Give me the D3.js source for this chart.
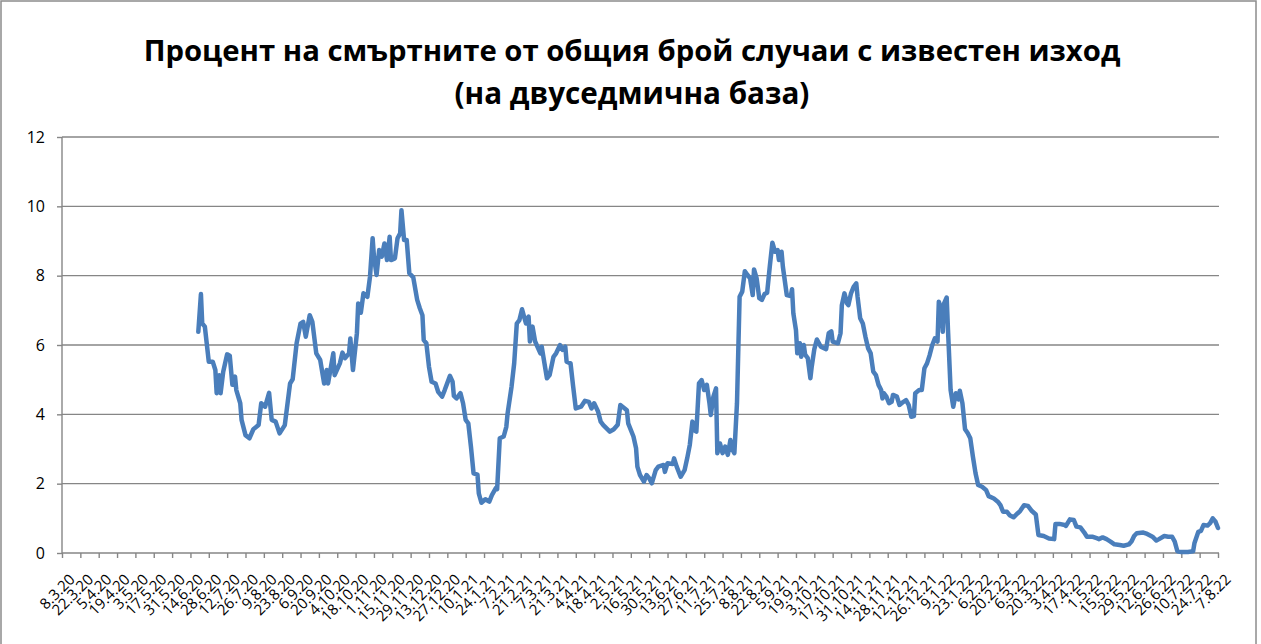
<!DOCTYPE html>
<html>
<head>
<meta charset="utf-8">
<script src="https://cdn.jsdelivr.net/npm/d3@7"></script>
<style>
  body { margin: 0; background: #fff; }
  text { font-family: "Open Sans", "Noto Sans", sans-serif; fill: #000; }
</style>
</head>
<body>
<svg id="chart" width="1261" height="644"></svg>
<script>
// tick labels every 14 days, starting 8.3.20
const tickLabels = ["8.3.20", "22.3.20", "5.4.20", "19.4.20", "3.5.20", "17.5.20", "31.5.20", "14.6.20",
    "28.6.20", "12.7.20", "26.7.20", "9.8.20", "23.8.20", "6.9.20", "20.9.20", "4.10.20", "18.10.20",
    "1.11.20", "15.11.20", "29.11.20", "13.12.20", "27.12.20", "10.1.21", "24.1.21", "7.2.21", "21.2.21",
    "7.3.21", "21.3.21", "4.4.21", "18.4.21", "2.5.21", "16.5.21", "30.5.21", "13.6.21", "27.6.21",
    "11.7.21", "25.7.21", "8.8.21", "22.8.21", "5.9.21", "19.9.21", "3.10.21", "17.10.21", "31.10.21",
    "14.11.21", "28.11.21", "12.12.21", "26.12.21", "9.1.22", "23.1.22", "6.2.22", "20.2.22", "6.3.22",
    "20.3.22", "3.4.22", "17.4.22", "1.5.22", "15.5.22", "29.5.22", "12.6.22", "26.6.22", "10.7.22",
    "24.7.22", "7.8.22"];

// day number counted from 8.3.20
const days = [104, 106, 107, 109, 112, 115, 117, 118, 120, 121, 123, 126, 128, 130, 132, 133, 136, 137, 140, 143,
    146, 150, 152, 155, 158, 160, 163, 166, 170, 174, 176, 179, 182, 184, 186, 189, 191, 194, 197, 200,
    202, 203, 207, 208, 212, 214, 216, 219, 220, 222, 225, 226, 228, 230, 233, 235, 237, 238, 240, 242,
    244, 246, 248, 250, 251, 254, 256, 258, 259, 261, 263, 265, 268, 271, 273, 275, 276, 278, 280, 282,
    285, 287, 290, 292, 296, 298, 299, 301, 304, 306, 308, 310, 312, 314, 317, 318, 320, 323, 326, 328,
    331, 332, 334, 337, 339, 340, 343, 345, 347, 349, 351, 354, 356, 357, 359, 361, 365, 366, 370, 372,
    375, 377, 380, 382, 384, 385, 388, 390, 392, 396, 399, 402, 404, 406, 409, 411, 413, 418, 421, 424,
    426, 431, 432, 436, 438, 439, 441, 444, 446, 448, 450, 453, 455, 459, 460, 462, 466, 467, 469, 472,
    475, 477, 479, 481, 482, 484, 486, 488, 490, 492, 494, 495, 497, 499, 500, 502, 504, 506, 508, 510,
    511, 513, 515, 517, 519, 521, 523, 525, 527, 528, 530, 532, 534, 536, 538, 540, 542, 544, 546, 547,
    549, 550, 553, 556, 557, 558, 560, 561, 563, 564, 566, 567, 569, 571, 572, 574, 576, 579, 583, 585,
    587, 588, 592, 594, 595, 597, 599, 600, 602, 604, 606, 607, 609, 611, 613, 615, 617, 619, 621, 623,
    625, 626, 627, 629, 631, 633, 634, 637, 639, 642, 644, 646, 648, 650, 651, 654, 656, 658, 660, 662,
    664, 666, 668, 669, 671, 672, 673, 675, 676, 678, 680, 682, 684, 685, 687, 689, 691, 693, 695, 697,
    699, 702, 705, 707, 711, 714, 716, 718, 721, 723, 726, 729, 731, 734, 737, 740, 743, 745, 749, 753,
    757, 758, 761, 765, 766, 769, 772, 774, 777, 780, 782, 786, 790, 791, 794, 797, 800, 803, 807, 810,
    814, 816, 818, 820, 825, 828, 832, 835, 837, 841, 844, 847, 849, 851, 854, 859, 863, 864, 867, 869,
    871, 874, 876, 878, 880, 882];

// percent of deaths among closed cases (two-week base)
const values = [6.38, 7.47, 6.62, 6.53, 5.52, 5.52, 5.28, 4.61, 5.13, 4.61, 5.23, 5.73, 5.69, 4.85, 5.09, 4.70, 4.32, 3.84, 3.40, 3.31,
    3.57, 3.69, 4.32, 4.22, 4.62, 3.84, 3.79, 3.45, 3.69, 4.89, 5.01, 6.05, 6.62, 6.67, 6.24, 6.86, 6.67, 5.76, 5.57, 4.89,
    5.28, 4.89, 5.76, 5.13, 5.47, 5.78, 5.62, 5.76, 6.19, 5.28, 6.34, 7.20, 6.93, 7.49, 7.39, 7.97, 9.08, 8.55, 8.02, 8.74,
    8.55, 8.93, 8.45, 9.12, 8.45, 8.50, 9.08, 9.22, 9.89, 9.03, 9.03, 8.07, 7.95, 7.30, 7.06, 6.86, 6.14, 6.05, 5.37, 4.94,
    4.89, 4.65, 4.51, 4.70, 5.11, 4.94, 4.53, 4.46, 4.61, 4.32, 3.84, 3.74, 3.07, 2.30, 2.26, 1.72, 1.45, 1.55, 1.48, 1.67,
    1.87, 1.84, 3.31, 3.36, 3.64, 4.03, 4.80, 5.47, 6.62, 6.72, 7.03, 6.62, 6.82, 6.10, 6.53, 6.10, 5.76, 5.95, 5.04, 5.13,
    5.66, 5.76, 6.00, 5.86, 5.95, 5.52, 5.47, 4.80, 4.17, 4.22, 4.39, 4.36, 4.17, 4.32, 4.08, 3.79, 3.69, 3.50, 3.57, 3.70,
    4.27, 4.12, 3.74, 3.36, 3.02, 2.49, 2.25, 2.06, 2.25, 2.16, 2.01, 2.39, 2.49, 2.54, 2.34, 2.59, 2.57, 2.73, 2.49, 2.20,
    2.39, 2.73, 3.12, 3.79, 3.55, 3.50, 4.89, 4.99, 4.70, 4.85, 4.32, 3.98, 4.51, 4.75, 2.88, 3.16, 2.88, 3.07, 2.83, 3.26,
    3.02, 2.88, 4.32, 7.39, 7.54, 8.13, 8.02, 7.92, 7.44, 8.18, 7.92, 7.35, 7.30, 7.47, 7.51, 8.26, 8.95, 8.69, 8.74, 8.45,
    8.69, 8.26, 7.44, 7.41, 7.61, 6.91, 6.43, 5.76, 6.05, 5.66, 6.00, 5.72, 5.62, 5.04, 5.37, 5.88, 6.16, 5.95, 5.88, 6.34,
    6.39, 6.10, 6.05, 6.34, 7.15, 7.49, 7.20, 7.15, 7.49, 7.68, 7.78, 7.39, 6.77, 6.62, 6.24, 5.91, 5.76, 5.23, 5.13, 4.85,
    4.70, 4.46, 4.61, 4.51, 4.32, 4.36, 4.56, 4.51, 4.27, 4.36, 4.41, 4.27, 3.93, 3.95, 4.61, 4.70, 4.70, 5.33, 5.47, 5.71,
    6.00, 6.19, 6.10, 7.25, 7.01, 6.38, 7.20, 7.37, 6.43, 4.70, 4.22, 4.61, 4.43, 4.68, 4.32, 3.57, 3.46, 3.31, 2.78, 2.30,
    1.96, 1.91, 1.82, 1.64, 1.57, 1.48, 1.38, 1.19, 1.19, 1.09, 1.03, 1.14, 1.21, 1.38, 1.36, 1.21, 1.11, 0.52, 0.49, 0.42,
    0.40, 0.84, 0.84, 0.81, 0.78, 0.97, 0.95, 0.76, 0.74, 0.59, 0.47, 0.47, 0.42, 0.40, 0.45, 0.40, 0.33, 0.25, 0.23, 0.21,
    0.25, 0.33, 0.49, 0.57, 0.59, 0.55, 0.47, 0.36, 0.40, 0.49, 0.47, 0.47, 0.33, 0.05, 0.03, 0.03, 0.05, 0.28, 0.61, 0.64,
    0.81, 0.79, 0.86, 1.00, 0.91, 0.72];

const yTicks = [0, 2, 4, 6, 8, 10, 12];
const titleLines = ["Процент на смъртните от общия брой случаи с известен изход", "(на двуседмична база)"];

const svg = d3.select("#chart"),
    margin = { top: 137, right: 43, bottom: 91, left: 62 },
    width = +svg.attr("width") - margin.left - margin.right,
    height = +svg.attr("height") - margin.top - margin.bottom,
    gridColor = "#868686";

// outer frame of the chart area
svg.append("rect")
    .attr("x", 1).attr("y", 1)
    .attr("width", 1255).attr("height", 660)
    .attr("fill", "none")
    .attr("stroke", "#8c8c8c")
    .attr("stroke-width", 1.5);

const x = d3.scaleLinear().domain([0, (tickLabels.length - 1) * 14]).range([0, width]),
    y = d3.scaleLinear().domain([0, 12]).range([height, 0]);

const g = svg.append("g").attr("transform", "translate(" + margin.left + "," + margin.top + ")");

// horizontal gridlines
g.selectAll(".grid")
    .data(yTicks.filter(d => d > 0))
    .enter().append("line")
    .attr("x1", 0).attr("x2", width + 1)
    .attr("y1", d => y(d)).attr("y2", d => y(d))
    .attr("stroke", gridColor)
    .attr("stroke-width", 1.4);

// y axis
const yAxis = g.append("g")
    .call(d3.axisLeft(y).tickValues(yTicks).tickSize(5).tickPadding(12));
yAxis.selectAll("line, path").attr("stroke", gridColor).attr("stroke-width", 1.4);
yAxis.select(".domain").attr("d", "M0," + y(12) + "V" + y(0));
yAxis.selectAll("text").style("font-size", "16px").attr("fill", "#000");

// x axis
const xAxis = g.append("g")
    .attr("transform", "translate(0," + height + ")")
    .call(d3.axisBottom(x)
        .tickValues(d3.range(0, tickLabels.length).map(i => i * 14))
        .tickFormat((d, i) => tickLabels[i])
        .tickSize(5));
xAxis.selectAll("line").attr("stroke", gridColor).attr("stroke-width", 1.4);
xAxis.select(".domain").attr("stroke", gridColor).attr("stroke-width", 1.4)
    .attr("d", "M0,0H" + (width + 1));
xAxis.selectAll("text")
    .style("font-size", "15px")
    .attr("fill", "#000")
    .attr("text-anchor", "end")
    .attr("dy", "0.35em")
    .attr("transform", "translate(4,18) rotate(-45)");

// the line
const line = d3.line()
    .x(function (d, i) {
        return x(days[i]);
    })
    .y(function (d) {
        return y(d);
    });

g.append("path")
    .datum(values)
    .attr("d", line)
    .attr("fill", "none")
    .attr("stroke", "#4a7ebb")
    .attr("stroke-width", 4.5)
    .attr("stroke-linejoin", "round")
    .attr("stroke-linecap", "round");

// title, fitted to the reference width
const titleWidths = [977, 355];
titleLines.forEach(function (t, i) {
    const txt = svg.append("text")
        .attr("x", 632)
        .attr("y", i === 0 ? 61 : 104)
        .attr("text-anchor", "middle")
        .style("font-weight", "bold")
        .style("font-size", "28px")
        .text(t);
    const w = txt.node().getComputedTextLength();
    txt.style("font-size", (28 * titleWidths[i] / w).toFixed(2) + "px");
});
</script>
</body>
</html>
